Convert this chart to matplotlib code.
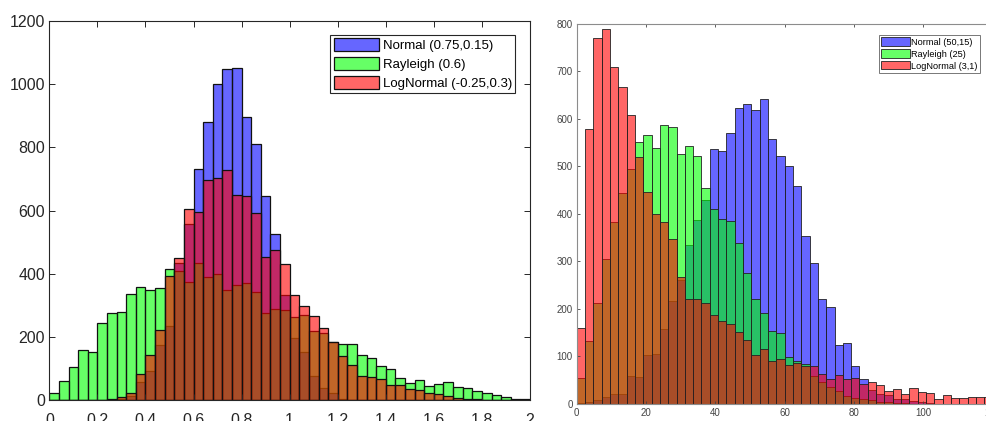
import numpy as np
import matplotlib
matplotlib.use('Agg')
import matplotlib.pyplot as plt
from matplotlib.ticker import FuncFormatter

plt.rcParams['font.family'] = ['Liberation Sans', 'DejaVu Sans']

# left panel: 50 bins on [0, 2]
left_range = (0, 2)
left_normal = [0, 0, 0, 0, 0, 0, 2, 5, 13, 58,
               92, 174, 235, 435, 558, 730, 879, 1001, 1047, 1051,
               897, 809, 647, 525, 332, 198, 153, 77, 39, 23,
               5, 2, 0, 0, 0, 0, 0, 0, 0, 0,
               0, 0, 0, 0, 0, 0, 0, 0, 0, 0]
left_rayleigh = [25, 61, 107, 158, 153, 244, 278, 280, 335, 360,
                 348, 355, 414, 408, 374, 434, 390, 400, 348, 366,
                 372, 344, 277, 290, 287, 265, 269, 221, 213, 184,
                 180, 177, 145, 135, 108, 98, 72, 55, 65, 47,
                 52, 57, 42, 38, 30, 23, 17, 11, 6, 4]
left_lognormal = [0, 0, 0, 0, 0, 0, 5, 10, 24, 84,
                  145, 224, 392, 450, 606, 595, 697, 703, 727, 650,
                  646, 592, 453, 476, 432, 332, 298, 266, 230, 186,
                  142, 111, 76, 74, 67, 50, 50, 37, 32, 25,
                  21, 13, 8, 6, 4, 2, 1, 1, 0, 0]
left_labels = ['Normal (0.75,0.15)', 'Rayleigh (0.6)', 'LogNormal (-0.25,0.3)']
left_xticks = [0, 0.2, 0.4, 0.6, 0.8, 1, 1.2, 1.4, 1.6, 1.8, 2]
left_yticks = [0, 200, 400, 600, 800, 1000, 1200]

# right panel: 50 bins on [0, 120]
right_range = (0, 120)
right_normal = [2, 4, 9, 14, 21, 21, 59, 56, 103, 105,
                158, 216, 262, 334, 388, 429, 537, 532, 570, 623,
                632, 618, 642, 557, 523, 502, 458, 354, 297, 221,
                204, 125, 129, 81, 53, 29, 22, 19, 10, 10,
                6, 5, 2, 1, 1, 0, 0, 0, 0, 0]
right_rayleigh = [54, 133, 213, 305, 383, 444, 494, 551, 567, 539,
                  587, 583, 527, 544, 522, 455, 411, 390, 385, 339,
                  275, 220, 192, 154, 150, 98, 90, 84, 59, 47,
                  36, 27, 17, 12, 10, 8, 5, 4, 3, 2,
                  1, 0, 0, 0, 0, 0, 0, 0, 0, 0]
right_lognormal = [161, 579, 770, 789, 710, 668, 608, 520, 446, 400,
                   384, 348, 268, 222, 221, 213, 188, 175, 169, 151,
                   134, 104, 115, 91, 94, 83, 86, 80, 80, 63,
                   52, 61, 52, 54, 42, 46, 40, 28, 32, 22,
                   34, 26, 24, 10, 19, 12, 12, 15, 15, 15]
right_labels = ['Normal (50,15)', 'Rayleigh (25)', 'LogNormal (3,1)']
right_xticks = [0, 20, 40, 60, 80, 100, 120]
right_yticks = [0, 100, 200, 300, 400, 500, 600, 700, 800]

colors = [(0, 0, 1, 0.6), (0, 1, 0, 0.6), (1, 0, 0, 0.6)]


def draw(ax, rng, series, labels, edge, lw):
    edges = np.linspace(rng[0], rng[1], len(series[0]) + 1)
    w = edges[1] - edges[0]
    for counts, c, lab in zip(series, colors, labels):
        ax.bar(edges[:-1], counts, width=w, align='edge', facecolor=c,
               edgecolor=edge, linewidth=lw, label=lab)
    ax.set_xlim(rng)


fig = plt.figure(figsize=(9.87, 4.21), dpi=100)

ax1 = fig.add_axes([0.0500, 0.0487, 0.4870, 0.9020])
draw(ax1, left_range, [left_normal, left_rayleigh, left_lognormal],
     left_labels, '#111111', 0.9)
ax1.set_ylim(0, 1200)
ax1.set_xticks(left_xticks)
ax1.set_yticks(left_yticks)
ax1.xaxis.set_major_formatter(FuncFormatter(lambda v, p: '%g' % v))
ax1.tick_params(direction='in', top=True, right=True, length=4, width=0.7,
                labelsize=11.5, colors='#262626', pad=3)
ax1.tick_params(axis='x', pad=9)
for s in ax1.spines.values():
    s.set_color('#262626')
    s.set_linewidth(0.8)
leg1 = ax1.legend(loc='upper right', bbox_to_anchor=(0.969, 0.963),
                  borderaxespad=0, fontsize=9.5, fancybox=False,
                  handlelength=3.4, handleheight=1.1, handletextpad=0.3,
                  labelspacing=0.4, borderpad=0.25, framealpha=1)
leg1.get_frame().set_edgecolor('#262626')
leg1.get_frame().set_linewidth(0.8)

ax2 = fig.add_axes([0.5843, 0.0404, 0.4213, 0.9026])
draw(ax2, right_range, [right_normal, right_rayleigh, right_lognormal],
     right_labels, '#222222', 0.6)
ax2.set_ylim(0, 800)
ax2.set_xticks(right_xticks)
ax2.set_yticks(right_yticks)
ax2.tick_params(direction='in', top=True, right=True, length=2.5, width=0.6,
                labelsize=7, colors='#444444', pad=3)
for s in ax2.spines.values():
    s.set_color('#8c8c8c')
    s.set_linewidth(0.8)
leg2 = ax2.legend(loc='upper right', bbox_to_anchor=(0.970, 0.971),
                  borderaxespad=0, fontsize=6.6, fancybox=False,
                  handlelength=3.1, handleheight=1.0, handletextpad=0.2,
                  labelspacing=0.3, borderpad=0.25, framealpha=1)
leg2.get_frame().set_edgecolor('#777777')
leg2.get_frame().set_linewidth(0.7)

fig.savefig('out.png', dpi=100)
